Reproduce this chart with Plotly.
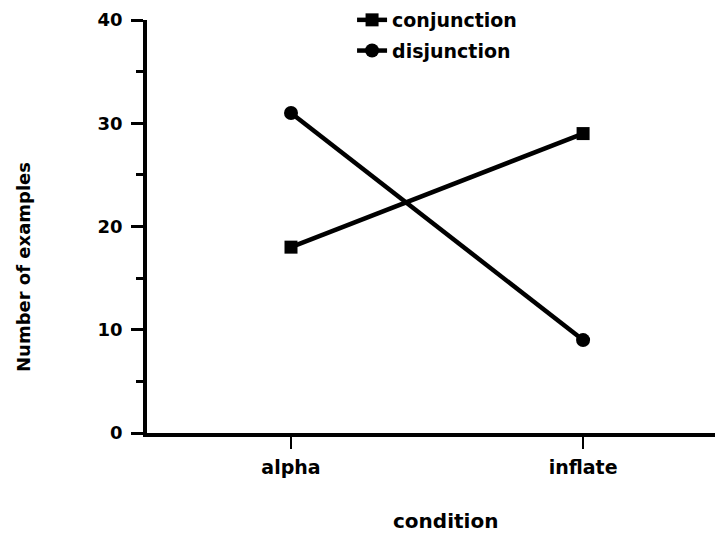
import plotly.graph_objects as go

categories = ["alpha", "inflate"]
conjunction = [18, 29]
disjunction = [31, 9]
y_ticks = [0, 10, 20, 30, 40]

FONT = "DejaVu Sans"

fig = go.Figure()
fig.add_trace(go.Scatter(
    x=categories, y=conjunction, name="conjunction", mode="lines+markers",
    line=dict(color="black", width=4.5),
    marker=dict(symbol="square", size=13, color="black"),
    legendgroup="a",
))
fig.add_trace(go.Scatter(
    x=categories, y=disjunction, name="disjunction", mode="lines+markers",
    line=dict(color="black", width=4.5),
    marker=dict(symbol="circle", size=14, color="black"),
    legendgroup="b",
))

fig.update_layout(
    width=715, height=528,
    paper_bgcolor="white", plot_bgcolor="white",
    margin=dict(l=139, r=0, t=12, b=103, autoexpand=False),
    font=dict(family=FONT, color="black"),
    showlegend=True,
    legend=dict(
        x=0.356, y=1.046, xanchor="left", yanchor="top",
        font=dict(size=19, family=FONT, weight="bold"),
        tracegroupgap=3, bgcolor="rgba(0,0,0,0)",
        itemwidth=30,
    ),
    xaxis=dict(
        type="category", range=[-0.493, 1.479],
        showgrid=False, zeroline=False,
        showline=True, linecolor="black", linewidth=3.5,
        ticks="outside", ticklen=12, tickwidth=2, tickcolor="black",
        tickfont=dict(size=19, family=FONT, weight="bold"),
        ticklabelstandoff=2,
    ),
    yaxis=dict(
        range=[0, 40], tickvals=y_ticks,
        showgrid=False, zeroline=False,
        showline=True, linecolor="black", linewidth=3.5,
        ticks="outside", ticklen=12, tickwidth=3, tickcolor="black",
        tickfont=dict(size=18, family=FONT, weight="bold"),
        ticklabelstandoff=5,
        minor=dict(dtick=5, ticks="outside", ticklen=7, tickwidth=3, tickcolor="black"),
    ),
    annotations=[
        dict(
            text="Number of examples", xref="paper", yref="paper",
            x=-0.2135, y=0.402, xanchor="center", yanchor="middle",
            textangle=-90, showarrow=False,
            font=dict(size=18, family=FONT, weight="bold"),
        ),
        dict(
            text="condition", xref="paper", yref="paper",
            x=0.519, y=-0.212, xanchor="center", yanchor="middle",
            showarrow=False,
            font=dict(size=20, family=FONT, weight="bold"),
        ),
    ],
)

fig.write_html("out.html")
